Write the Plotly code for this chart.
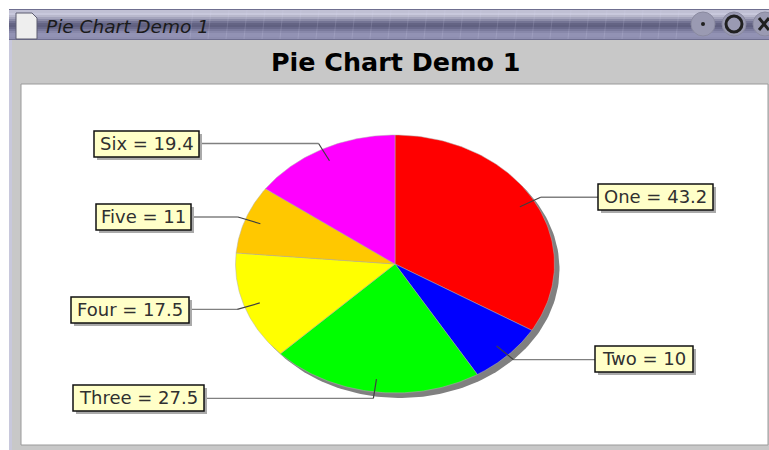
import numpy as np
import plotly.graph_objects as go

categories = ["One", "Two", "Three", "Four", "Five", "Six"]
values = [43.2, 10, 27.5, 17.5, 11, 19.4]
value_labels = ["43.2", "10", "27.5", "17.5", "11", "19.4"]
colors = ["#ff0000", "#0000ff", "#00ff00", "#ffff00", "#ffc800", "#ff00ff"]
title = "Pie Chart Demo 1"

# layout (pixels)
W, H = 769, 450
CX, CY, RX, RY = 395, 264, 159.5, 129
SHADOW = 5
boxes = {  # x0, x1, y0, y1
    "One": (598, 713, 184, 210),
    "Two": (595, 693, 346, 372),
    "Three": (73, 204, 385, 411),
    "Four": (71, 189, 297, 323),
    "Five": (96, 191, 204, 230),
    "Six": (94, 199, 131, 157),
}

total = sum(values)
fig = go.Figure()


def ell(a, r=1.0, dx=0, dy=0):
    return CX + dx + RX * r * np.sin(a), CY + dy - RY * r * np.cos(a)


# shadow
a = np.linspace(0, 2 * np.pi, 240)
sx, sy = ell(a, dx=SHADOW, dy=SHADOW)
fig.add_trace(go.Scatter(x=sx, y=sy, mode="lines", fill="toself", fillcolor="#808080",
                         line=dict(width=0), hoverinfo="skip", showlegend=False))

# slices
start = 0.0
mids = []
for cat, v, col in zip(categories, values, colors):
    span = v / total * 2 * np.pi
    a = np.linspace(start, start + span, 90)
    x, y = ell(a)
    fig.add_trace(go.Scatter(x=np.r_[CX, x, CX], y=np.r_[CY, y, CY], mode="lines", fill="toself",
                             fillcolor=col, line=dict(color="#b0b0b0", width=0.5),
                             name=cat, showlegend=False))
    mids.append(start + span / 2)
    start += span

# leader lines
for cat, m in zip(categories, mids):
    x0, x1, y0, y1 = boxes[cat]
    ix, iy = ell(m, 0.9)
    ox, oy = ell(m, 1.05)
    ey = oy
    ex = x1 if ox > x1 else x0
    fig.add_trace(go.Scatter(x=[ox, ex], y=[oy, ey], mode="lines", line=dict(color="#808080", width=1.3),
                             hoverinfo="skip", showlegend=False))
    fig.add_trace(go.Scatter(x=[ix, ox], y=[iy, oy], mode="lines", line=dict(color="#404040", width=1.2),
                             hoverinfo="skip", showlegend=False))

shapes = []


def rect(x0, y0, x1, y1, fill, line=None, lw=0, layer="below"):
    shapes.append(dict(type="rect", x0=x0, y0=y0, x1=x1, y1=y1, xref="x", yref="y", fillcolor=fill,
                       line=dict(color=line or fill, width=lw), layer=layer))


# window frame
rect(9, 9, W, H, "#c8c8c8")
rect(9, 40, 12, H, "#c8c8dc")
rect(21, 84, 768, 445, "#ffffff", "#9a9a9a", 1)

# title bar gradient
stops = [(9, "#6f6f90"), (10, "#c0c0d4"), (13, "#c8c8dc"), (15, "#b8b8cc"), (17, "#a4a4bc"), (19, "#8c8ca8"),
         (21, "#747494"), (23, "#646484"), (25, "#606080"), (27, "#6a6a8c"), (29, "#7a7a9c"), (31, "#8888aa"),
         (33, "#9292b4"), (37, "#8e8eb0"), (39, "#6f6f90"), (40, "#6f6f90")]
for (y0, c), (y1, _) in zip(stops[:-1], stops[1:]):
    rect(9, y0, W, y1, c)
for sxp in range(190, 680, 18):
    shapes.append(dict(type="line", x0=sxp + 3, y0=10, x1=sxp, y1=39, xref="x", yref="y",
                       line=dict(color="rgba(220,220,240,0.16)", width=1), layer="below"))

# document icon
shapes.append(dict(type="path", path="M 16 13 L 32 13 L 37 18 L 37 39 L 16 39 Z", xref="x", yref="y",
                   fillcolor="#eeeeee", line=dict(color="#5c5c70", width=1), layer="below"))

# buttons
for bx in (703, 734, 765):
    shapes.append(dict(type="circle", x0=bx - 12, y0=12, x1=bx + 12, y1=36, xref="x", yref="y",
                       fillcolor="#9a9ab2", line=dict(color="#8a8aa0", width=1), layer="below"))
shapes.append(dict(type="circle", x0=701, y0=22, x1=705, y1=26, xref="x", yref="y",
                   fillcolor="#202020", line=dict(width=0), layer="below"))
shapes.append(dict(type="circle", x0=726, y0=16, x1=742, y1=32, xref="x", yref="y",
                   fillcolor="rgba(0,0,0,0)", line=dict(color="#202020", width=3), layer="below"))
shapes.append(dict(type="line", x0=759, y0=18, x1=769, y1=30, xref="x", yref="y",
                   line=dict(color="#202020", width=3), layer="below"))
shapes.append(dict(type="line", x0=769, y0=18, x1=759, y1=30, xref="x", yref="y",
                   line=dict(color="#202020", width=3), layer="below"))

# label boxes
annotations = []
for cat, val in zip(categories, value_labels):
    x0, x1, y0, y1 = boxes[cat]
    rect(x0 + 3, y0 + 3, x1 + 3, y1 + 3, "#aaaaaa", layer="above")
    rect(x0, y0, x1, y1, "#ffffc8", "#101010", 1.5, layer="above")
    annotations.append(dict(x=(x0 + x1) / 2, y=(y0 + y1) / 2 - 1, xref="x", yref="y", showarrow=False,
                            text=f"{cat} = {val}", font=dict(family="DejaVu Sans", size=18, color="#303030")))

annotations.append(dict(x=395, y=62, xref="x", yref="y", showarrow=False, text=f"<b>{title}</b>",
                        font=dict(family="DejaVu Sans", size=25.4, color="#000000")))
annotations.append(dict(x=44, y=26, xref="x", yref="y", showarrow=False, xanchor="left",
                        text=f"<i>{title}</i>", font=dict(family="DejaVu Sans", size=18.5, color="#1a1a1a")))

fig.update_layout(
    width=W, height=H, autosize=False, margin=dict(l=0, r=0, t=0, b=0),
    paper_bgcolor="#ffffff", plot_bgcolor="#ffffff", showlegend=False,
    xaxis=dict(range=[0, W], visible=False, fixedrange=True),
    yaxis=dict(range=[H, 0], visible=False, fixedrange=True),
    shapes=shapes, annotations=annotations,
)
fig.write_html("out.html", config=dict(displayModeBar=False),
               post_script="document.body.style.margin='0';document.documentElement.style.overflow='hidden';")
